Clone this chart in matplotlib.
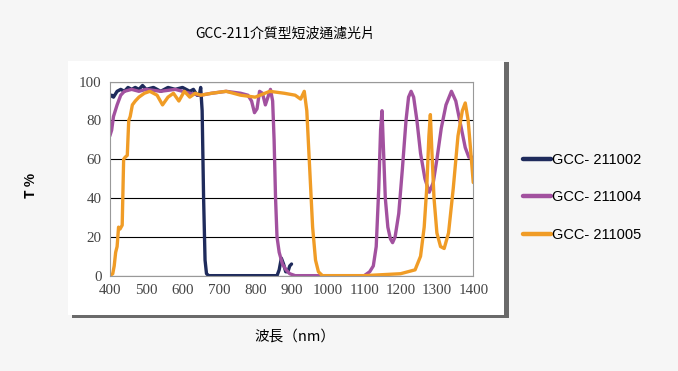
import matplotlib.pyplot as plt
from matplotlib.patches import Rectangle

plt.rcParams['font.family'] = ['Noto Sans CJK TC', 'DejaVu Sans']

# GCC-211002 (navy)
wl_002 = [400, 405, 410, 420, 430, 440, 450, 460, 470, 480, 490, 500, 520, 540, 560, 580, 600,
          620, 630, 640, 646, 650, 654, 658, 662, 666, 672, 700, 800, 860, 866, 872, 878, 884,
          890, 895, 900]
t_002 = [92, 93, 92, 95, 96, 95, 97, 96, 97, 96, 98, 96, 97, 95, 97, 96, 97,
         95, 96, 93, 93, 97, 85, 40, 8, 1, 0, 0, 0, 0, 3, 9, 6, 2,
         2, 5, 6]

# GCC-211004 (purple)
wl_004 = [400, 405, 410, 420, 430, 440, 460, 480, 500, 540, 580, 620, 650, 680, 720, 760,
          780, 790, 798, 805, 812, 820, 828, 835, 842, 848, 852, 856, 860, 866, 875, 885,
          895, 910, 1000, 1100, 1115, 1125, 1133, 1140, 1145, 1149, 1153, 1158, 1165, 1172,
          1178, 1185, 1195, 1205, 1215, 1222, 1229, 1236, 1245, 1255, 1267, 1279, 1290, 1300,
          1312, 1325, 1340, 1352, 1365, 1378, 1388, 1400]
t_004 = [72, 75, 82, 88, 93, 95, 96, 95, 96, 95, 96, 94, 93, 94, 95, 94,
         93, 90, 84, 86, 95, 94, 88, 92, 96, 90, 70, 40, 20, 12, 6, 3,
         1, 0, 0, 0, 2, 5, 15, 45, 75, 85, 65, 40, 25, 19,
         17, 20, 32, 55, 80, 92, 95, 92, 80, 63, 50, 43, 48, 60,
         76, 88, 95, 90, 78, 66, 61, 61]

# GCC-211005 (orange)
wl_005 = [400, 408, 412, 416, 420, 424, 428, 434, 438, 442, 448, 452, 456, 462, 470, 480,
          495, 510, 530, 545, 560, 575, 590, 605, 620, 635, 650, 680, 720, 760, 800, 840,
          880, 910, 925, 935, 942, 950, 958, 966, 974, 985, 1100, 1200, 1240, 1255, 1265,
          1272, 1278, 1282, 1286, 1292, 1300, 1310, 1320, 1332, 1345, 1358, 1370, 1378, 1386,
          1394, 1400]
t_005 = [0, 1, 5, 12, 15, 25, 24, 26, 60, 61, 62, 80, 82, 88, 90, 92,
         94, 95, 93, 88, 92, 94, 90, 95, 92, 94, 93, 94, 95, 93, 92, 95,
         94, 93, 91, 95, 85, 55, 25, 8, 2, 0, 0, 1, 3, 10, 25,
         45, 72, 83, 65, 40, 22, 15, 14, 22, 45, 72, 85, 89, 80,
         62, 48]

series = [('GCC- 211002', wl_002, t_002, '#1f2b5c'),
          ('GCC- 211004', wl_004, t_004, '#a2519f'),
          ('GCC- 211005', wl_005, t_005, '#f09c26')]

xticks = [400, 500, 600, 700, 800, 900, 1000, 1100, 1200, 1300, 1400]
yticks = [0, 20, 40, 60, 80, 100]

fig = plt.figure(figsize=(6.78, 3.71), dpi=100, facecolor='#f6f6f6')

# white panel with drop shadow
fig.patches.append(Rectangle((0.106, 0.142), 0.644, 0.690, transform=fig.transFigure,
                             facecolor='#6a6a6a', edgecolor='none', zorder=-2))
fig.patches.append(Rectangle((0.100, 0.150), 0.644, 0.685, transform=fig.transFigure,
                             facecolor='white', edgecolor='none', zorder=-1))

ax = fig.add_axes([0.162, 0.257, 0.536, 0.523])
ax.set_zorder(3)
ax.set_facecolor('white')
for name, x, y, c in series:
    ax.plot(x, y, color=c, lw=2.4, label=name, solid_capstyle='round')

ax.set_xlim(400, 1400)
ax.set_ylim(0, 100)
ax.set_xticks(xticks)
ax.set_yticks(yticks)
ax.grid(axis='y', color='black', lw=0.8)
ax.set_axisbelow(True)
ax.tick_params(length=0, pad=6, labelsize=10.8, colors='#444444')
for lab in ax.get_xticklabels() + ax.get_yticklabels():
    lab.set_family('Liberation Serif')
for sp in ax.spines.values():
    sp.set_color('#999999')
    sp.set_linewidth(0.8)

leg = fig.legend(loc='center left', bbox_to_anchor=(0.752, 0.468), frameon=False,
                 handlelength=1.9, handletextpad=0.1, labelspacing=1.6,
                 prop={'family': 'Liberation Sans', 'size': 10.5})
for h in leg.get_lines():
    h.set_linewidth(3.2)

fig.text(0.42, 0.91, 'GCC-211介質型短波通濾光片', ha='center', va='center', fontsize=10)
fig.text(0.045, 0.50, 'T %', ha='center', va='center', rotation=90, fontsize=10,
         fontweight='bold')
fig.text(0.435, 0.094, '波長（nm）', ha='center', va='center', fontsize=10.5)

fig.savefig('out.png', dpi=100, facecolor=fig.get_facecolor())
